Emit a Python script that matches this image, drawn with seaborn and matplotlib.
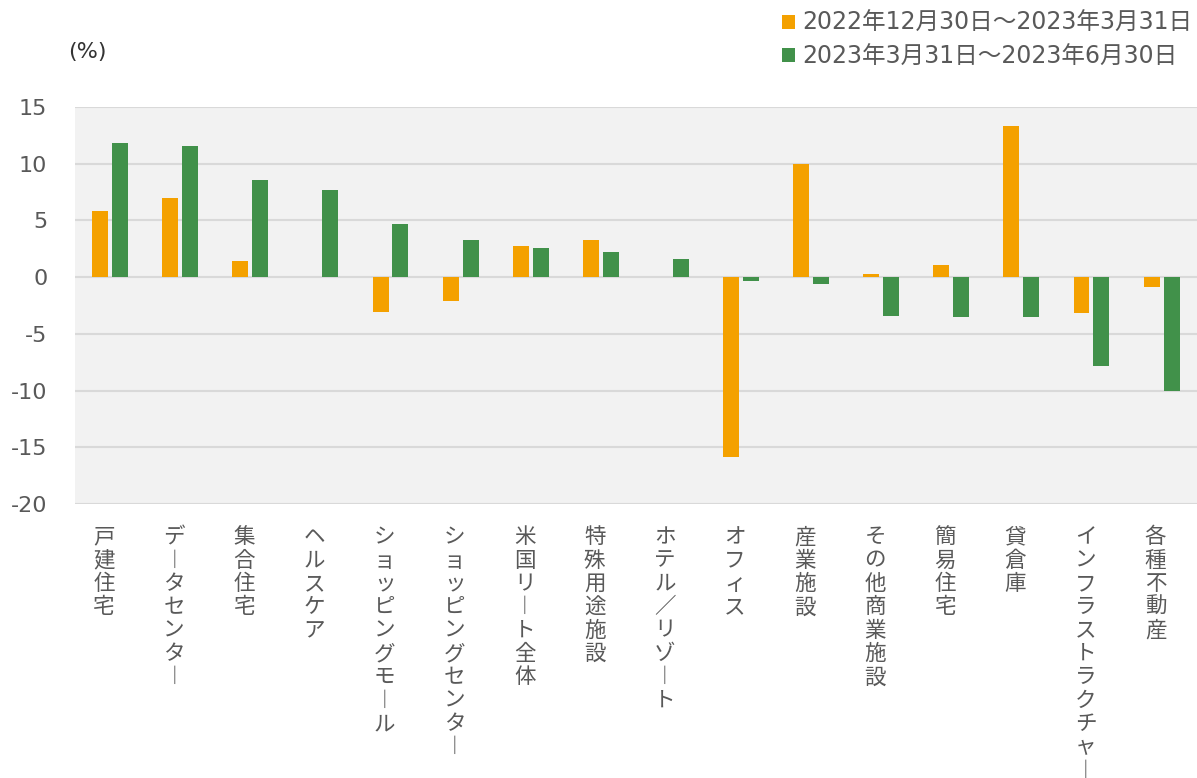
import numpy as np
import pandas as pd
import matplotlib
matplotlib.use("Agg")
import matplotlib.pyplot as plt
import matplotlib.transforms as mtransforms
import seaborn as sns

categories = ["戸建住宅", "データセンター", "集合住宅", "ヘルスケア", "ショッピングモール",
              "ショッピングセンター", "米国リート全体", "特殊用途施設", "ホテル／リゾート",
              "オフィス", "産業施設", "その他商業施設", "簡易住宅", "貸倉庫",
              "インフラストラクチャー", "各種不動産"]
series_names = ["2022年12月30日～2023年3月31日", "2023年3月31日～2023年6月30日"]
values_q1 = [5.8, 7.0, 1.4, 0.0, -3.1, -2.1, 2.7, 3.3, 0.0, -15.9, 10.0, 0.3, 1.1, 13.3, -3.2, -0.9]
values_q2 = [11.8, 11.6, 8.6, 7.7, 4.7, 3.3, 2.6, 2.2, 1.6, -0.3, -0.6, -3.4, -3.5, -3.5, -7.8, -10.0]
y_ticks = [15, 10, 5, 0, -5, -10, -15, -20]
unit_label = "(%)"

colors = ["#F4A100", "#41914A"]
text_gray = "#595959"
grid_gray = "#D9D9D9"

sns.set_style("white")
plt.rcParams["font.family"] = ["DejaVu Sans", "Noto Sans CJK JP"]
plt.rcParams["axes.unicode_minus"] = False

df = pd.DataFrame({
    "category": categories * 2,
    "value": values_q1 + values_q2,
    "series": [series_names[0]] * len(categories) + [series_names[1]] * len(categories),
})

fig = plt.figure(figsize=(11.97, 7.78), dpi=100)
ax = fig.add_axes([0.0627, 0.3522, 0.9370, 0.5103])
ax.set_facecolor("#F2F2F2")

sns.barplot(data=df, x="category", y="value", hue="series", order=categories,
            hue_order=series_names, palette=colors, width=0.57, gap=0.2,
            errorbar=None, linewidth=0, saturation=1, ax=ax, zorder=3)

ax.set_ylim(-20, 15)
ax.set_xlim(-0.5, len(categories) - 0.5)
ax.set_yticks(y_ticks)
ax.set_yticklabels([str(t) for t in y_ticks], fontsize=16, color=text_gray)
ax.grid(axis="y", color=grid_gray, linewidth=1.5, zorder=0)
ax.grid(axis="x", visible=False)
ax.set_axisbelow(True)
for s in ax.spines.values():
    s.set_visible(False)
ax.set_xlabel("")
ax.set_ylabel("")
ax.tick_params(axis="y", length=0, pad=20)


def vertical(s):
    return "\n".join("︱" if ch == "ー" else ch for ch in s)


ax.set_xticks(range(len(categories)))
ax.set_xticklabels([vertical(c) for c in categories], fontsize=15.5, color=text_gray,
                   family="Noto Sans CJK JP", va="top", linespacing=1.08)
ax.tick_params(axis="x", length=0, pad=16)
shift = mtransforms.ScaledTranslation(-6 / 100, 0, fig.dpi_scale_trans)
for lab in ax.get_xticklabels():
    lab.set_transform(lab.get_transform() + shift)

handles, labels = ax.get_legend_handles_labels()
ax.legend(handles, labels, loc="upper right", bbox_to_anchor=(1.004, 0.998),
          bbox_transform=fig.transFigure, frameon=False, fontsize=17,
          labelcolor=text_gray, handlelength=0.55, handleheight=0.55,
          handletextpad=0.3, labelspacing=0.4, borderaxespad=0)

fig.text(68 / 1197, 1 - 52 / 778, unit_label, fontsize=16, color="#333333",
         va="center", ha="left")

fig.savefig("out.png", dpi=100)
